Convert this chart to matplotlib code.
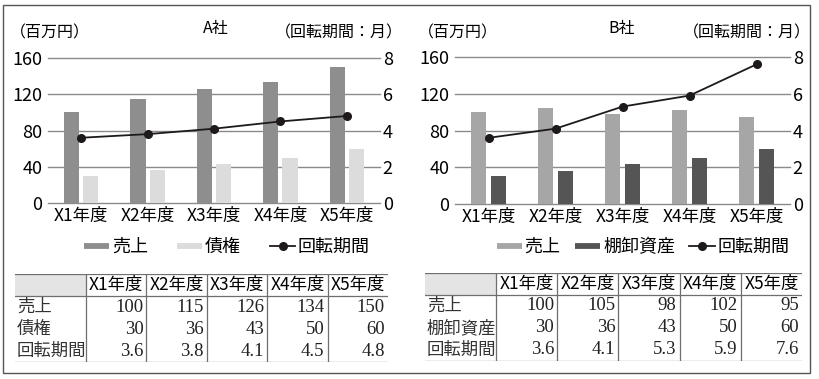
import matplotlib.pyplot as plt
from matplotlib.patches import Rectangle
from matplotlib.lines import Line2D
import numpy as np

plt.rcParams['font.family'] = ['Noto Sans CJK JP', 'DejaVu Sans']

W, H = 820, 379

years = ["X1年度", "X2年度", "X3年度", "X4年度", "X5年度"]

a_sales = [100, 115, 126, 134, 150]
a_recv = [30, 36, 43, 50, 60]
a_turn = [3.6, 3.8, 4.1, 4.5, 4.8]

b_sales = [100, 105, 98, 102, 95]
b_inv = [30, 36, 43, 50, 60]
b_turn = [3.6, 4.1, 5.3, 5.9, 7.6]

a_table_sales = ["100", "115", "126", "134", "150"]
a_table_recv = ["30", "36", "43", "50", "60"]
a_table_turn = ["3.6", "3.8", "4.1", "4.5", "4.8"]
b_table_sales = ["100", "105", "98", "102", "95"]
b_table_inv = ["30", "36", "43", "50", "60"]
b_table_turn = ["3.6", "4.1", "5.3", "5.9", "7.6"]


def px_box(x0, y0, x1, y1):
    return [x0 / W, 1 - y1 / H, (x1 - x0) / W, (y1 - y0) / H]


def draw_panel(fig, axbox, title, tx, ox, second_name, sales, second, turn,
               c_sales, c_second, leg_cx, colspace, tbox, rows):
    ax = fig.add_axes(px_box(*axbox))
    x = np.arange(len(years))
    w = 0.23
    ax.bar(x - w / 2 - 0.03, sales, w, color=c_sales, zorder=2)
    ax.bar(x + w / 2 + 0.03, second, w, color=c_second, zorder=2)
    ax.set_xlim(-0.5, len(years) - 0.5)
    ax.set_ylim(0, 160)
    ax.set_yticks([0, 40, 80, 120, 160])
    for v in [0, 40, 80, 120, 160]:
        ax.axhline(v, color="#8a8a8a", lw=1.0, zorder=1, clip_on=False)
    for s in ax.spines.values():
        s.set_visible(False)
    ax.set_xticks(x)
    ax.set_xticklabels(years, fontsize=12.5)
    ax.tick_params(axis="x", length=0, pad=3)
    ax.tick_params(axis="y", length=0, pad=4, labelsize=13)

    ax2 = ax.twinx()
    ax2.set_ylim(0, 8)
    ax2.set_yticks([0, 2, 4, 6, 8])
    for s in ax2.spines.values():
        s.set_visible(False)
    ax2.tick_params(axis="y", length=0, pad=2, labelsize=13)
    ax2.plot(x, turn, color="#1e1a1a", lw=1.3, marker="o", ms=5.5, zorder=3)

    y_lab = 1 - 33 / H
    fig.text((ox + 10) / W, y_lab, "（百万円）", fontsize=11.5, ha="left", va="center")
    fig.text((ox + 403) / W, y_lab, "（回転期間：月）", fontsize=11.5, ha="right", va="center")
    fig.text(tx / W, 1 - 28 / H, title, fontsize=11.5, ha="center", va="center")

    handles = [
        Line2D([], [], color=c_sales, lw=4.2, solid_capstyle="butt"),
        Line2D([], [], color=c_second, lw=4.2, solid_capstyle="butt"),
        Line2D([], [], color="#1e1a1a", lw=1.3, marker="o", ms=5.5),
    ]
    fig.legend(handles=handles, labels=["売上", second_name, "回転期間"],
               loc="center", bbox_to_anchor=(leg_cx / W, 1 - 247 / H),
               ncol=3, frameon=False, fontsize=13, handlelength=1.4,
               handletextpad=0.15, columnspacing=colspace, borderpad=0)

    # table
    tx0, ty0, tx1, ty1 = tbox
    tax = fig.add_axes(px_box(tx0, ty0, tx1, ty1))
    tax.set_axis_off()
    tw = tx1 - tx0
    th = ty1 - ty0
    tax.set_xlim(0, tw)
    tax.set_ylim(th, 0)
    first_w = 71
    cw = (tw - first_w) / 5
    edges = [0] + [first_w + i * cw for i in range(6)]
    rh = th / 4
    lc = "#6e6e6e"
    tax.add_patch(Rectangle((0, 0), first_w, rh, color="#e4e4e4", lw=0))
    tax.plot([0, tw], [0, 0], color=lc, lw=0.9)
    tax.plot([0, tw], [rh, rh], color=lc, lw=0.9)
    tax.plot([0, tw], [th, th], color=lc, lw=0.9)
    for e in edges[1:-1]:
        tax.plot([e, e], [0, th], color=lc, lw=0.9)
    for i, yr in enumerate(years):
        tax.text((edges[i + 1] + edges[i + 2]) / 2, rh / 2, yr, fontsize=12.5,
                 ha="center", va="center")
    for r, (name, vals) in enumerate(rows):
        yc = rh * (r + 1.5)
        tax.text(2, yc, name, fontsize=12.5, ha="left", va="center", color="#333333")
        for i, v in enumerate(vals):
            tax.text(edges[i + 2] - 3, yc, v, fontsize=13.5, ha="right", va="center",
                     family="Liberation Serif", color="#222222")
    return ax


fig = plt.figure(figsize=(W / 100, H / 100), dpi=100)

fig.patches.append(Rectangle((3 / W, 1 - 373 / H), (810 - 3) / W, (373 - 5) / H,
                             transform=fig.transFigure, fill=False,
                             edgecolor="#555555", lw=1.0))

draw_panel(fig, (48, 58, 380, 203), "A社", 216, 0, "債権",
           a_sales, a_recv, a_turn, "#8e8e8e", "#dcdcdc", 227, 1.6,
           (15, 274, 388, 362),
           [("売上", a_table_sales), ("債権", a_table_recv), ("回転期間", a_table_turn)])

draw_panel(fig, (455, 57, 790, 204), "B社", 622, 408, "棚卸資産",
           b_sales, b_inv, b_turn, "#a6a6a6", "#555555", 643, 0.8,
           (425, 273, 802, 361),
           [("売上", b_table_sales), ("棚卸資産", b_table_inv), ("回転期間", b_table_turn)])

fig.savefig("out.png", dpi=100)
